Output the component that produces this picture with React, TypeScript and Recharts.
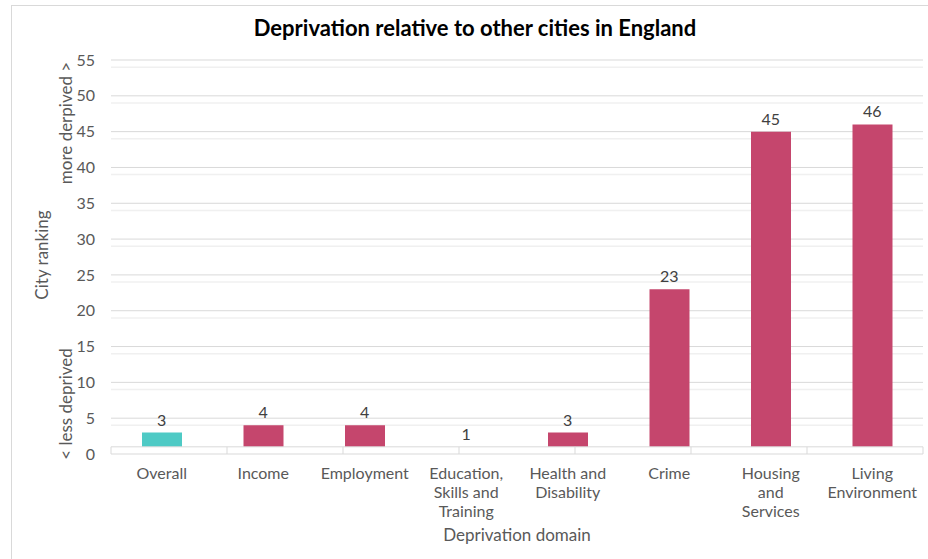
import React from "react";
import {
  ComposedChart,
  Bar,
  Line,
  XAxis,
  YAxis,
  CartesianGrid,
  ReferenceLine,
  LabelList,
  Cell,
} from "recharts";

// deprivation domains, left to right
const domains = [
  "Overall",
  "Income",
  "Employment",
  "Education, Skills and Training",
  "Health and Disability",
  "Crime",
  "Housing and Services",
  "Living Environment",
];

// how each category label wraps under the axis
const domainLines: Record<string, string[]> = {
  "Education, Skills and Training": ["Education,", "Skills and", "Training"],
  "Health and Disability": ["Health and", "Disability"],
  "Housing and Services": ["Housing", "and", "Services"],
  "Living Environment": ["Living", "Environment"],
};

const rankings = [3, 4, 4, 1, 3, 23, 45, 46];
const barColors = ["#4ECAC5", "#C5466D", "#C5466D", "#C5466D", "#C5466D", "#C5466D", "#C5466D", "#C5466D"];

const yTicks = [0, 5, 10, 15, 20, 25, 30, 35, 40, 45, 50, 55];
const minorTicks = Array.from({ length: 56 }, (_, i) => i).filter((v) => v % 5 !== 0);
const boundaries = [0, 1, 2, 3, 4, 5, 6, 7, 8];

// the horizontal axis crosses the value axis at 1
const axisCross = 1;

const data = domains.map((domain, i) => ({
  domain,
  rank: rankings[i],
  span: [axisCross, rankings[i]],
}));

const FONT = "Lato, 'Open Sans', sans-serif";
const GREY = "#595959";

const DomainTick = (props: any) => {
  const { x, y, payload } = props;
  const lines = domainLines[payload.value] ?? [payload.value];
  return (
    <text x={x} y={y} textAnchor="middle" fill={GREY} fontSize={16} fontFamily={FONT}>
      {lines.map((line, i) => (
        <tspan key={i} x={x} dy={i === 0 ? 25 : 19}>
          {line}
        </tspan>
      ))}
    </text>
  );
};

const sideLabel = (text: string, left: number, top: number, size: number) => (
  <div
    style={{
      position: "absolute",
      left,
      top,
      transform: "translate(-50%, -50%) rotate(-90deg)",
      whiteSpace: "nowrap",
      fontFamily: FONT,
      fontSize: size,
      color: GREY,
    }}
  >
    {text}
  </div>
);

export default function App() {
  return (
    <div
      style={{
        position: "absolute",
        left: 0,
        top: 0,
        width: 928,
        height: 559,
        overflow: "hidden",
        background: "#fff",
      }}
    >
      <div
        style={{
          position: "absolute",
          left: 11,
          top: 5,
          width: 960,
          height: 600,
          border: "1.5px solid #d9d9d9",
        }}
      />
      <div
        style={{
          position: "absolute",
          left: 11,
          top: 14,
          width: 928,
          textAlign: "center",
          fontFamily: FONT,
          fontWeight: 700,
          fontSize: 22,
          color: "#000",
        }}
      >
        Deprivation relative to other cities in England
      </div>
      <div style={{ position: "absolute", left: 0, top: 0 }}>
        <ComposedChart
          width={928}
          height={559}
          data={data}
          margin={{ top: 60, right: 5, bottom: 45, left: 0 }}
          barSize={40}
        >
          <CartesianGrid
            vertical={false}
            horizontalValues={minorTicks}
            stroke="#f0f0f0"
            strokeWidth={1.5}
          />
          <CartesianGrid vertical={false} stroke="#d9d9d9" />
          <XAxis
            xAxisId="cat"
            dataKey="domain"
            axisLine={false}
            tickLine={false}
            tickSize={0}
            tickMargin={0}
            height={60}
            interval={0}
            tick={<DomainTick />}
          />
          <XAxis xAxisId="num" type="number" domain={[0, 8]} hide allowDataOverflow />
          <YAxis
            domain={[0, 55]}
            ticks={yTicks}
            width={111}
            axisLine={false}
            tickLine={false}
            tickSize={0}
            tickMargin={16}
            tick={{ fill: GREY, fontSize: 16, fontFamily: FONT }}
          />
          <Bar xAxisId="cat" dataKey="span" isAnimationActive={false}>
            {data.map((d, i) => (
              <Cell key={d.domain} fill={barColors[i]} />
            ))}
          </Bar>
          <ReferenceLine xAxisId="cat" y={axisCross} stroke="#d9d9d9" />
          {boundaries.map((b) => (
            <ReferenceLine
              key={b}
              xAxisId="num"
              segment={[
                { x: b, y: 0 },
                { x: b, y: axisCross },
              ]}
              stroke="#d9d9d9"
            />
          ))}
          <Line
            xAxisId="cat"
            dataKey="rank"
            stroke="none"
            dot={false}
            activeDot={false}
            isAnimationActive={false}
          >
            <LabelList
              dataKey="rank"
              position="top"
              offset={7}
              fill="#404040"
              fontSize={16}
              fontFamily={FONT}
            />
          </Line>
        </ComposedChart>
      </div>
      {sideLabel("City ranking", 41, 255, 17)}
      {sideLabel("more derpived >", 65, 123, 17)}
      {sideLabel("< less deprived", 65, 404, 17)}
      <div
        style={{
          position: "absolute",
          left: 517,
          top: 534,
          transform: "translate(-50%, -50%)",
          whiteSpace: "nowrap",
          fontFamily: FONT,
          fontSize: 17,
          color: GREY,
        }}
      >
        Deprivation domain
      </div>
    </div>
  );
}
